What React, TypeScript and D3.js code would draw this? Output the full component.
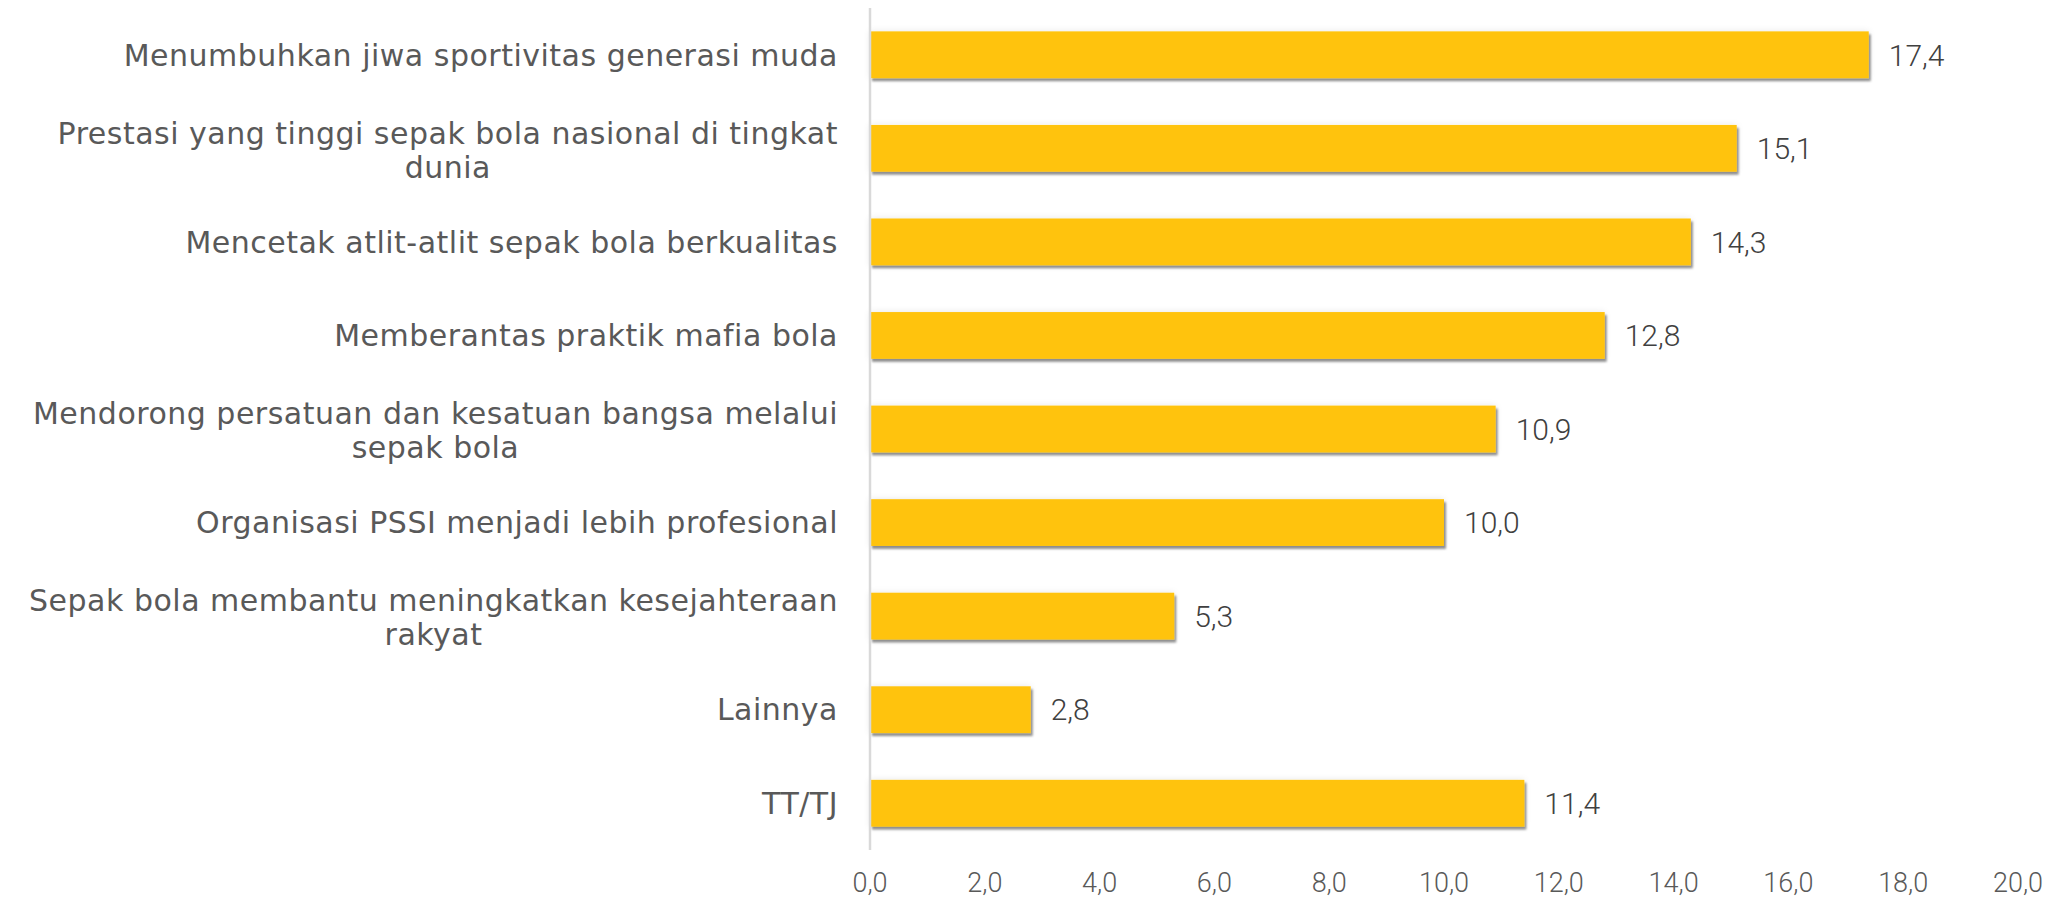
import React, { useEffect, useRef } from "react";
import * as d3 from "d3";

const categories: string[][] = [
  ["Menumbuhkan jiwa sportivitas generasi muda"],
  ["Prestasi yang tinggi sepak bola nasional di tingkat", "dunia"],
  ["Mencetak atlit-atlit sepak bola berkualitas"],
  ["Memberantas praktik mafia bola"],
  ["Mendorong persatuan dan kesatuan bangsa melalui", "sepak bola"],
  ["Organisasi PSSI menjadi lebih profesional"],
  ["Sepak bola membantu meningkatkan kesejahteraan", "rakyat"],
  ["Lainnya"],
  ["TT/TJ"],
];
const values: number[] = [17.4, 15.1, 14.3, 12.8, 10.9, 10.0, 5.3, 2.8, 11.4];
const xTicks: number[] = [0, 2, 4, 6, 8, 10, 12, 14, 16, 18, 20];

const W = 2059;
const H = 898;
const fmt = (v: number) => v.toFixed(1).replace(".", ",");

export default function App() {
  const ref = useRef<SVGSVGElement | null>(null);

  useEffect(() => {
    const svg = d3.select(ref.current);
    svg.selectAll("*").remove();

    const x = d3.scaleLinear().domain([0, 20]).range([870, 2018]);
    const y = d3
      .scaleBand<number>()
      .domain(d3.range(categories.length))
      .range([8, 850])
      .paddingInner(0.5)
      .paddingOuter(0.25);

    const defs = svg.append("defs");
    const f = defs
      .append("filter")
      .attr("id", "barShadow")
      .attr("x", "-5%")
      .attr("y", "-30%")
      .attr("width", "110%")
      .attr("height", "170%");
    f.append("feGaussianBlur").attr("in", "SourceAlpha").attr("stdDeviation", 3).attr("result", "glowBlur");
    f.append("feFlood").attr("flood-color", "#000").attr("flood-opacity", 0.1).attr("result", "glowColor");
    f.append("feComposite").attr("in", "glowColor").attr("in2", "glowBlur").attr("operator", "in").attr("result", "glow");
    f.append("feOffset").attr("in", "SourceAlpha").attr("dx", 2).attr("dy", 3).attr("result", "off");
    f.append("feGaussianBlur").attr("in", "off").attr("stdDeviation", 0.9).attr("result", "offBlur");
    f.append("feFlood").attr("flood-color", "#000").attr("flood-opacity", 0.42).attr("result", "shColor");
    f.append("feComposite").attr("in", "shColor").attr("in2", "offBlur").attr("operator", "in").attr("result", "shadow");
    const merge = f.append("feMerge");
    merge.append("feMergeNode").attr("in", "glow");
    merge.append("feMergeNode").attr("in", "shadow");
    merge.append("feMergeNode").attr("in", "SourceGraphic");

    // bars
    svg
      .append("g")
      .selectAll("rect")
      .data(values)
      .join("rect")
      .attr("x", x(0))
      .attr("y", (_, i) => y(i) as number)
      .attr("width", (d) => x(d) - x(0))
      .attr("height", y.bandwidth())
      .attr("fill", "#FFC30B")
      .attr("filter", "url(#barShadow)");

    // axis line
    svg
      .append("line")
      .attr("x1", x(0))
      .attr("x2", x(0))
      .attr("y1", 8)
      .attr("y2", 850)
      .attr("stroke", "#D9D9D9")
      .attr("stroke-width", 2.5);

    // value labels
    svg
      .append("g")
      .selectAll("text")
      .data(values)
      .join("text")
      .attr("x", (d) => x(d) + 20)
      .attr("y", (_, i) => (y(i) as number) + y.bandwidth() / 2)
      .attr("dy", "0.36em")
      .attr("font-family", "Roboto, 'DejaVu Sans', sans-serif")
      .attr("font-weight", 300)
      .attr("font-size", 30)
      .attr("fill", "#404040")
      .text((d) => fmt(d));

    // x tick labels
    svg
      .append("g")
      .selectAll("text")
      .data(xTicks)
      .join("text")
      .attr("x", (d) => x(d))
      .attr("y", 892)
      .attr("text-anchor", "middle")
      .attr("font-family", "Roboto, 'DejaVu Sans', sans-serif")
      .attr("font-weight", 300)
      .attr("font-size", 27)
      .attr("fill", "#595959")
      .text((d) => fmt(d));

    // category labels
    const right = 838;
    const lineH = 34;
    const cg = svg.append("g");
    categories.forEach((lines, i) => {
      const cy = (y(i) as number) + y.bandwidth() / 2 + (lines.length > 1 ? 1.5 : 0);
      const g = cg.append("g");
      const texts = lines.map((ln, j) =>
        g
          .append("text")
          .attr("y", cy + (j - (lines.length - 1) / 2) * lineH)
          .attr("dy", "0.36em")
          .attr("font-family", "'DejaVu Sans', sans-serif")
          .attr("font-size", 30)
          .attr("letter-spacing", 0.5)
          .attr("fill", "#595959")
          .text(ln)
      );
      const widths = texts.map((t) => (t.node() as SVGTextElement).getComputedTextLength());
      const maxW = Math.max(...widths);
      const center = right - maxW / 2;
      texts.forEach((t) => t.attr("x", center).attr("text-anchor", "middle"));
    });
  }, []);

  return (
    <svg
      ref={ref}
      width={W}
      height={H}
      style={{ position: "absolute", left: 0, top: 0, display: "block", background: "#fff" }}
    />
  );
}
